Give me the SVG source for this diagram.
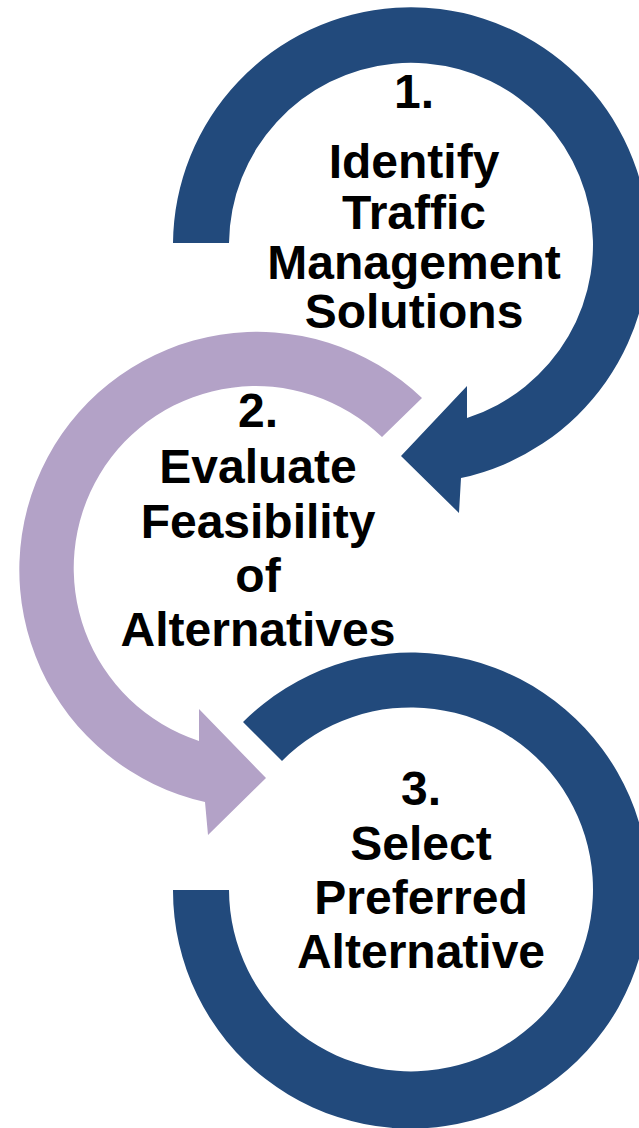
<svg xmlns="http://www.w3.org/2000/svg" width="639" height="1128" viewBox="0 0 639 1128">
  <style>
    .blue { fill: #224A7C; }
    .purple { fill: #B3A2C7; }
    .lbl { font-family: "Liberation Sans", Arial, sans-serif; font-weight: bold; font-size: 48px; fill: #000; text-anchor: middle; }
  </style>
  <rect width="639" height="1128" fill="#fff"/>
  <g id="connectors">
    <path id="arc3" class="blue" d="M 243,722 A 238 238 0 1 1 173,890 L 229,890 A 182 182 0 1 0 282,761 Z"/>
    <path id="arc2" class="purple" d="M 422,398 A 238 238 0 1 0 205,802 L 208,835 L 266,778 L 199,709 L 199,741 A 182 182 0 1 1 382,437 Z"/>
    <path id="arc1" class="blue" d="M 173,243 A 238 238 0 1 1 461,478 L 459,513 L 401,456 L 467,386 L 467,418 A 182 182 0 1 0 229,243 Z"/>
  </g>
  <g id="node1">
    <text class="lbl" x="414" y="108">1.</text>
    <text class="lbl" x="414" y="178">Identify</text>
    <text class="lbl" x="414" y="229">Traffic</text>
    <text class="lbl" x="414" y="279">Management</text>
    <text class="lbl" x="414" y="328">Solutions</text>
  </g>
  <g id="node2">
    <text class="lbl" x="258" y="427">2.</text>
    <text class="lbl" x="258" y="483">Evaluate</text>
    <text class="lbl" x="258" y="538">Feasibility</text>
    <text class="lbl" x="258" y="592">of</text>
    <text class="lbl" x="258" y="646">Alternatives</text>
  </g>
  <g id="node3">
    <text class="lbl" x="421" y="805">3.</text>
    <text class="lbl" x="421" y="860">Select</text>
    <text class="lbl" x="421" y="914">Preferred</text>
    <text class="lbl" x="421" y="968">Alternative</text>
  </g>
</svg>
